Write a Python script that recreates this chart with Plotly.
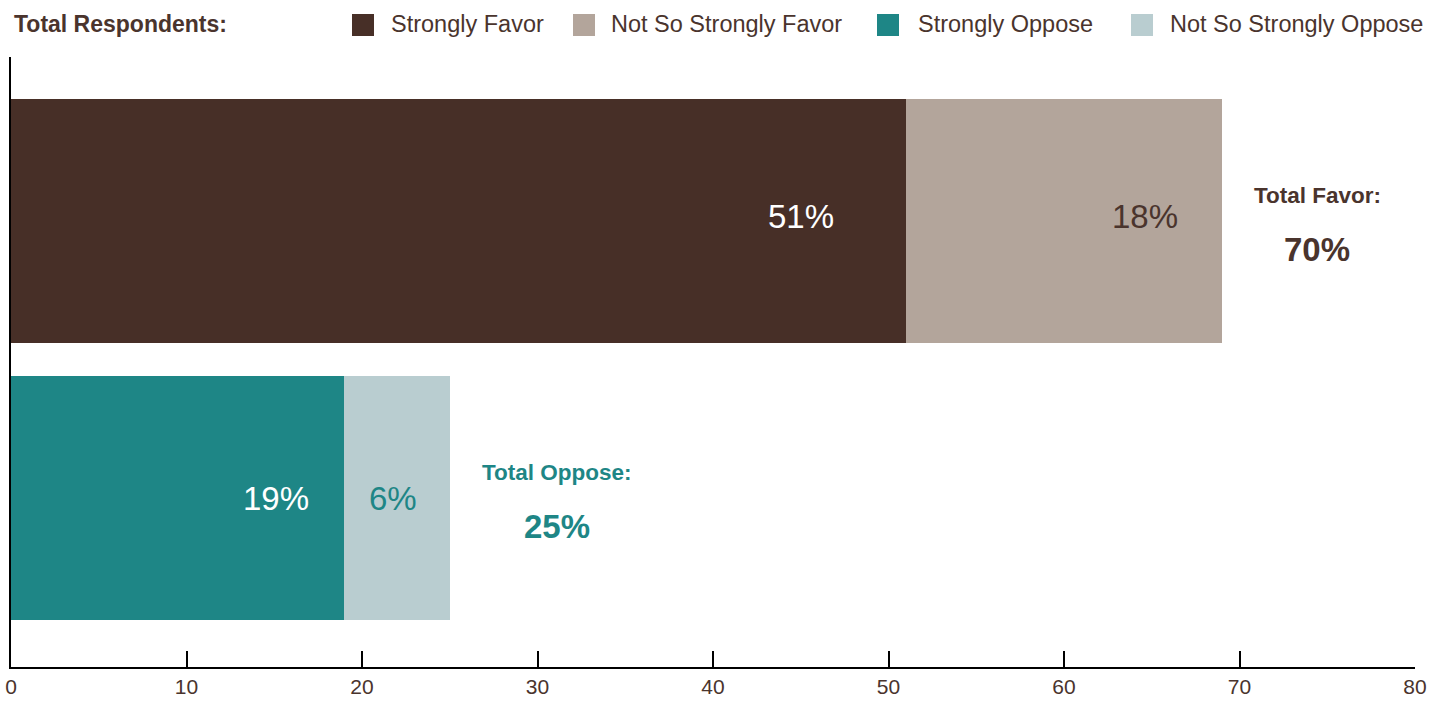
import plotly.graph_objects as go

# ---- data ----
rows = ["Total Favor", "Total Oppose"]
row_pos = [1, 0]
series_names = ["Strongly Favor", "Not So Strongly Favor", "Strongly Oppose", "Not So Strongly Oppose"]
favor_values = [51, 18]
oppose_values = [19, 6]
totals = [70, 25]
x_ticks = [0, 10, 20, 30, 40, 50, 60, 70, 80]

# ---- style ----
C_SF = "#472f27"
C_NSF = "#b3a59b"
C_SO = "#1e8686"
C_NSO = "#b9cdd0"
TXT = "#4a342d"
FONT = "Liberation Sans, Arial, Helvetica, sans-serif"
BAR_W = 0.88

fig = go.Figure()

def add_row(values, ypos, colors, names):
    for v, c, n in zip(values, colors, names):
        fig.add_trace(go.Bar(x=[v], y=[ypos], orientation="h", name=n,
                             marker=dict(color=c, line=dict(width=0)),
                             width=BAR_W, showlegend=False, hoverinfo="x+name"))

add_row(favor_values, row_pos[0], [C_SF, C_NSF], series_names[:2])
add_row(oppose_values, row_pos[1], [C_SO, C_NSO], series_names[2:])

annotations = []
# in-bar value labels
label_shift = [[-70, -42], [-33, -31]]
label_colors = [["white", TXT], ["white", C_SO]]
label_yshift = [5, 0]
for ri, vals in enumerate([favor_values, oppose_values]):
    cum = 0
    for si, v in enumerate(vals):
        cum += v
        annotations.append(dict(x=cum, y=row_pos[ri], xref="x", yref="y", text=f"{v}%",
                                showarrow=False, xanchor="right", yanchor="middle",
                                xshift=label_shift[ri][si], yshift=label_yshift[ri],
                                font=dict(family=FONT, size=33, color=label_colors[ri][si])))

# totals
total_colors = [TXT, C_SO]
total_titles = ["Total Favor:", "Total Oppose:"]
value_center_shift = [95, 107]
for ri, vals in enumerate([favor_values, oppose_values]):
    end = sum(vals)
    annotations.append(dict(x=end, y=row_pos[ri], xref="x", yref="y", text=f"<b>{total_titles[ri]}</b>",
                            showarrow=False, xanchor="left", yanchor="middle", xshift=30, yshift=26,
                            font=dict(family=FONT, size=22.5, color=total_colors[ri])))
    annotations.append(dict(x=end, y=row_pos[ri], xref="x", yref="y", text=f"<b>{totals[ri]}%</b>",
                            showarrow=False, xanchor="center", yanchor="middle",
                            xshift=value_center_shift[ri], yshift=-28,
                            font=dict(family=FONT, size=33, color=total_colors[ri])))

# header + manual legend
annotations.append(dict(x=0, y=1, xref="paper", yref="paper", text="<b>Total Respondents:</b>",
                        showarrow=False, xanchor="left", yanchor="middle", xshift=1, yshift=33,
                        font=dict(family=FONT, size=23, color=TXT)))
legend_colors = [C_SF, C_NSF, C_SO, C_NSO]
legend_sq_left = [341, 562, 866, 1120]   # px from plot left
legend_txt_left = [378, 598, 905, 1157]
shapes = []
for n, c, sx, tx in zip(series_names, legend_colors, legend_sq_left, legend_txt_left):
    shapes.append(dict(type="rect", xref="paper", yref="paper", xsizemode="pixel", ysizemode="pixel",
                       xanchor=0, yanchor=1, x0=sx, x1=sx + 22, y0=21, y1=43,
                       fillcolor=c, line=dict(width=0)))
    annotations.append(dict(x=0, y=1, xref="paper", yref="paper", text=n, showarrow=False,
                            xanchor="left", yanchor="middle", xshift=tx, yshift=33,
                            font=dict(family=FONT, size=23.5, color=TXT)))

fig.update_layout(
    width=1447, height=702,
    margin=dict(l=11, r=32, t=57, b=35),
    paper_bgcolor="white", plot_bgcolor="white",
    barmode="stack", bargap=0,
    showlegend=False,
    annotations=annotations, shapes=shapes,
    font=dict(family=FONT, color=TXT),
)
fig.update_xaxes(range=[0, 80], tickvals=x_ticks, ticktext=[str(t) for t in x_ticks],
                 ticks="inside", ticklen=16, tickwidth=2, tickcolor="black",
                 showline=True, linewidth=2, linecolor="black", showgrid=False, zeroline=False,
                 tickfont=dict(family=FONT, size=21, color=TXT), ticklabelstandoff=0,
                 automargin=False)
fig.update_yaxes(range=[-0.61, 1.592], showline=True, linewidth=2, linecolor="black",
                 showticklabels=False, ticks="", showgrid=False, zeroline=False, automargin=False)

fig.write_html("out.html")
